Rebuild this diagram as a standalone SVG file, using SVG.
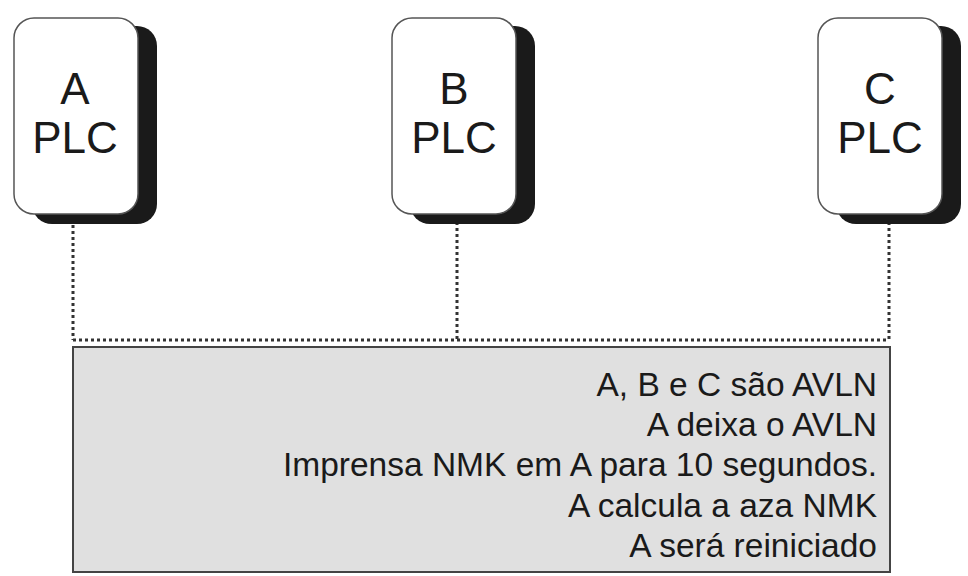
<svg xmlns="http://www.w3.org/2000/svg" width="968" height="576" viewBox="0 0 968 576">
<style>
.sh{fill:#1a1a1a}
.bx{fill:#fff;stroke:#555;stroke-width:1.5}
.lbl{font-family:"Liberation Sans",Arial,sans-serif;font-size:44px;fill:#1a1a1a;text-anchor:middle}
.dot{stroke:#333;stroke-width:3;stroke-dasharray:3 3;fill:none}
.t{font-family:"Liberation Sans",Arial,sans-serif;font-size:33.5px;fill:#1a1a1a;text-anchor:end}
</style>
<rect width="968" height="576" fill="#fff"/>
<g id="connectors">
<path class="dot" d="M73 225V340M457 222V340M889 222V340M73 340H889"/>
</g>
<g id="nodeA">
<rect class="sh" x="32" y="26" width="125" height="198" rx="20"/>
<rect class="bx" x="14" y="18" width="124" height="196" rx="20"/>
<text class="lbl" x="75" y="104">A</text><text class="lbl" x="75" y="153">PLC</text>
</g>
<g id="nodeB">
<rect class="sh" x="410" y="26" width="125" height="198" rx="20"/>
<rect class="bx" x="392" y="18" width="124" height="196" rx="20"/>
<text class="lbl" x="454" y="104">B</text><text class="lbl" x="454" y="153">PLC</text>
</g>
<g id="nodeC">
<rect class="sh" x="836" y="26" width="125" height="198" rx="20"/>
<rect class="bx" x="818" y="18" width="124" height="196" rx="20"/>
<text class="lbl" x="880" y="104">C</text><text class="lbl" x="880" y="153">PLC</text>
</g>
<g id="notes">
<rect x="73" y="347" width="817" height="225" fill="#e0e0e0" stroke="#444" stroke-width="2"/>
<text class="t" x="877" y="396">A, B e C são AVLN</text>
<text class="t" x="877" y="436">A deixa o AVLN</text>
<text class="t" x="877" y="476">Imprensa NMK em A para 10 segundos.</text>
<text class="t" x="877" y="517">A calcula a aza NMK</text>
<text class="t" x="877" y="557">A será reiniciado</text>
</g>
</svg>
